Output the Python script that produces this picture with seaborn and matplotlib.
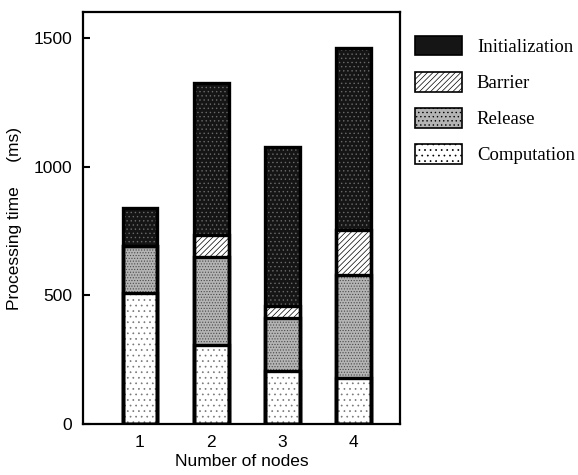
import numpy as np
import pandas as pd
import matplotlib
matplotlib.use("Agg")
import matplotlib.pyplot as plt
import matplotlib.patches as mpatches
import seaborn as sns

nodes = ["1", "2", "3", "4"]
computation = [510, 305, 205, 180]
release = [180, 345, 205, 400]
barrier = [0, 85, 50, 175]
initialization = [150, 590, 615, 705]

series_names = ["Initialization", "Barrier", "Release", "Computation"]
yticks = [0, 500, 1000, 1500]

sns.set_style("ticks")
plt.rcParams["font.family"] = ["Liberation Sans", "DejaVu Sans"]
plt.rcParams["hatch.linewidth"] = 0.5
plt.rcParams["xtick.direction"] = "in"
plt.rcParams["ytick.direction"] = "in"
plt.rcParams["text.color"] = "black"
plt.rcParams["axes.labelcolor"] = "black"
plt.rcParams["xtick.color"] = "black"
plt.rcParams["ytick.color"] = "black"

fig = plt.figure(figsize=(5.78, 4.75), dpi=100)
ax = fig.add_axes([0.1436, 0.1074, 0.5485, 0.8673])

c1 = np.array(computation)
c2 = c1 + np.array(release)
c3 = c2 + np.array(barrier)
c4 = c3 + np.array(initialization)

layers = [
    (c4, "#151515", "....", "#6a6a6a"),
    (c3, "white", "//////", "black"),
    (c2, "#b4b4b4", "......", "#4a4a4a"),
    (c1, "white", "...", "#777777"),
]
bw = 0.49
for cum, face, hatch, hcol in layers:
    df = pd.DataFrame({"node": nodes, "value": cum})
    n_before = len(ax.patches)
    sns.barplot(data=df, x="node", y="value", color=face, saturation=1,
                width=bw, ax=ax, linewidth=0, errorbar=None)
    for p in ax.patches[n_before:]:
        p.set_facecolor(face)
        p.set_hatch(hatch)
        p.set_edgecolor(hcol)
        p.set_linewidth(0)

for cum in [c4, c3, c2, c1]:
    df = pd.DataFrame({"node": nodes, "value": cum})
    sns.barplot(data=df, x="node", y="value", fill=False, width=bw, ax=ax,
                edgecolor="black", linewidth=2.4, errorbar=None)

ax.set_xlim(-0.8, 3.65)
ax.set_ylim(0, 1600)
ax.set_yticks(yticks)
ax.set_yticklabels([str(t) for t in yticks], fontsize=12.5)
ax.tick_params(axis="x", labelsize=12.5, length=0, pad=8)
ax.tick_params(axis="y", length=5, width=1.5, pad=8)
for s in ax.spines.values():
    s.set_visible(True)
    s.set_linewidth(1.6)
    s.set_color("black")
ax.set_xlabel("Number of nodes", fontsize=12.5, labelpad=3)
ax.set_ylabel("Processing time     (ms)", fontsize=12.5, labelpad=8)

handles = [
    mpatches.Patch(facecolor="#151515", edgecolor="black", linewidth=1.2, label="Initialization"),
    mpatches.Patch(facecolor="white", hatch="//////", edgecolor="black", linewidth=1.2, label="Barrier"),
    mpatches.Patch(facecolor="#b4b4b4", hatch="....", edgecolor="black", linewidth=1.2, label="Release"),
    mpatches.Patch(facecolor="white", hatch="...", edgecolor="black", linewidth=1.2, label="Computation"),
]
fig.legend(handles=handles, loc="upper left", bbox_to_anchor=(0.718, 0.925),
           frameon=False, prop={"family": "Liberation Serif", "size": 13.5},
           handlelength=2.5, handleheight=1.25, labelspacing=0.85, handletextpad=0.8,
           borderaxespad=0, borderpad=0)

fig.savefig("out.png", dpi=100)
